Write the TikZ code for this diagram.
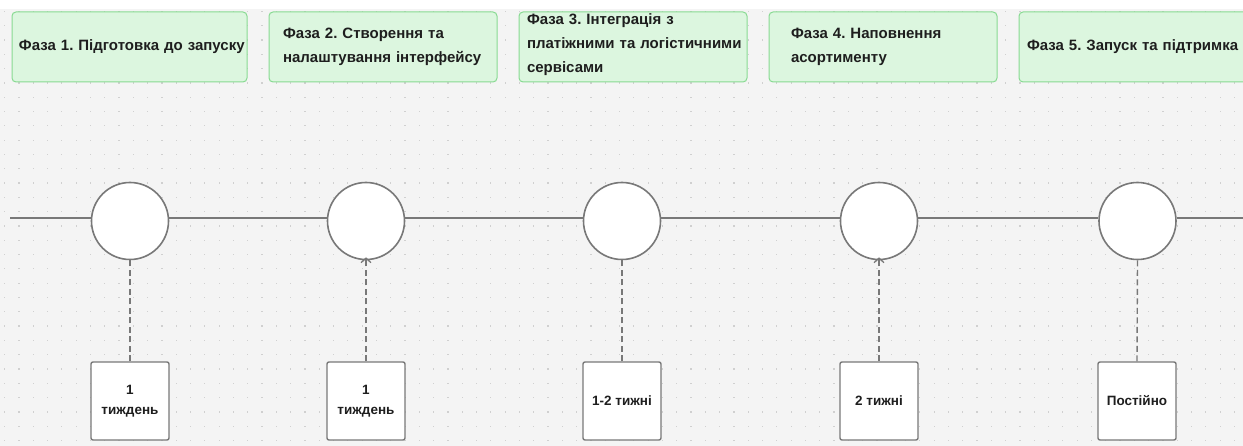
\documentclass[tikz,border=0pt]{standalone}
\usepackage{fontspec}
\setmainfont{Liberation Sans}
\usetikzlibrary{arrows.meta}
\frenchspacing
\definecolor{bggrey}{HTML}{F4F4F4}
\definecolor{dotgrey}{HTML}{D0D0D0}
\definecolor{phasefill}{HTML}{DCF6DF}
\definecolor{phasedraw}{HTML}{88DA92}
\definecolor{linegrey}{HTML}{787878}
\definecolor{txt}{HTML}{1E1E1E}
\tikzset{
  phasebox/.style={draw=phasedraw, fill=phasefill, line width=1pt, rounded corners=4pt,
    minimum height=70pt, align=left, inner ysep=0pt, text=txt,
    font=\fontsize{15}{24}\selectfont\bfseries},
  milestone/.style={circle, draw=linegrey, fill=white, line width=1.6pt, minimum size=77pt, inner sep=0pt},
  durbox/.style={draw=linegrey, fill=white, line width=1.4pt, rounded corners=2pt,
    minimum width=78pt, minimum height=78pt, inner sep=0pt, align=center, text=txt,
    font=\fontsize{13.5}{20}\selectfont\bfseries},
  tl/.style={draw=linegrey, line width=1.5pt},
  dashlink/.style={draw=linegrey, line width=1.4pt, dash pattern=on 6pt off 3.5pt},
  uparrow/.style={-{Straight Barb[length=4.5pt,width=10pt,line width=1.3pt]}}
}
\begin{document}
\begin{tikzpicture}[x=1pt,y=-1pt]
\useasboundingbox (0,0) rectangle (1243,446);
\fill[white] (0,0) rectangle (1243,9);
\fill[bggrey] (0,9) rectangle (1243,446);
\foreach \i in {0,...,86}{
  \foreach \j in {0,...,30}{
    \fill[dotgrey] ({4+14.3*\i},{10.9+14.3*\j}) rectangle +(1.2,1.2);
  }
}
% phase boxes
\node[phasebox, minimum width=235pt, text width=221pt] (p1) at (129.5,47) {\mbox{Фаза 1. Підготовка до запуску}};
\node[phasebox, minimum width=228pt, text width=200pt] (p2) at (383,47) {\mbox{Фаза 2. Створення та}\\\mbox{налаштування інтерфейсу}};
\node[phasebox, minimum width=228pt, text width=212pt] (p3) at (633,47) {\raisebox{0pt}[0pt][0pt]{\begin{tabular}{@{}l@{}}Фаза 3. Інтеграція з\\платіжними та логістичними\\сервісами\end{tabular}}};
\node[phasebox, minimum width=228pt, text width=184pt] (p4) at (883,47) {\mbox{Фаза 4. Наповнення}\\\mbox{асортименту}};
\node[phasebox, minimum width=240pt, text width=224pt] (p5) at (1139,47) {\mbox{Фаза 5. Запуск та підтримка}};
% timeline
\coordinate (tstart) at (10,218);
\coordinate (tend) at (1243,218);
\node[milestone] (c1) at (130,221) {};
\node[milestone] (c2) at (366,221) {};
\node[milestone] (c3) at (622,221) {};
\node[milestone] (c4) at (879,221) {};
\node[milestone] (c5) at (1137.5,221) {};
\draw[tl] (tstart) -- (c1.west |- tstart);
\draw[tl] (c1.east |- tstart) -- (c2.west |- tstart);
\draw[tl] (c2.east |- tstart) -- (c3.west |- tstart);
\draw[tl] (c3.east |- tstart) -- (c4.west |- tstart);
\draw[tl] (c4.east |- tstart) -- (c5.west |- tstart);
\draw[tl] (c5.east |- tstart) -- (tend);
% duration boxes
\node[durbox] (d1) at (130,401) {1\\тиждень};
\node[durbox] (d2) at (366,401) {1\\тиждень};
\node[durbox] (d3) at (622,401) {1-2 тижні};
\node[durbox] (d4) at (879,401) {2 тижні};
\node[durbox] (d5) at (1137,401) {Постійно};
% links
\draw[dashlink] (d1.north) -- (c1.south);
\draw[dashlink, uparrow] (d2.north) -- ([yshift=3pt]c2.south);
\draw[dashlink] (d3.north) -- (c3.south);
\draw[dashlink, uparrow] (d4.north) -- ([yshift=3pt]c4.south);
\draw[dashlink] (d5.north) -- (c5.south);
\end{tikzpicture}
\end{document}
